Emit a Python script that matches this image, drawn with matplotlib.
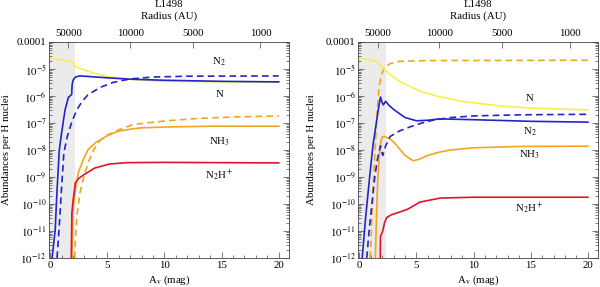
import numpy as np
import matplotlib
matplotlib.use('Agg')
import matplotlib.pyplot as plt
from matplotlib.ticker import MultipleLocator, LogLocator, NullFormatter

plt.rcParams['font.family'] = ['Liberation Serif', 'DejaVu Serif']
plt.rcParams['mathtext.fontset'] = 'stix'

# ---- data: (Av, log10 abundance) ----
# left panel
L_N_av = [0, 0.5, 1.0, 1.5, 1.9, 2.2, 2.6, 3.2, 4, 5.2, 6.4, 7, 8, 10, 13, 16, 20]
L_N_lg = [-4.63, -4.64, -4.66, -4.70, -4.74, -4.90, -4.98, -5.07, -5.18, -5.30, -5.35, -5.38, -5.42, -5.45, -5.47, -5.48, -5.49]
L_N2_av = [0.17, 0.44, 0.6, 0.8, 1.0, 1.3, 1.6, 1.88, 1.92, 2.0, 2.2, 2.6, 3.0, 4, 5, 7, 10, 15, 20]
L_N2_lg = [-12, -10.96, -9.5, -8.0, -7.37, -6.52, -6.05, -5.95, -5.6, -5.42, -5.3, -5.26, -5.27, -5.3, -5.33, -5.38, -5.42, -5.46, -5.48]
L_N2d_av = [0.6, 0.8, 1.0, 1.2, 1.5, 1.9, 2.35, 2.8, 3.3, 4.4, 5.5, 7, 9, 12, 20]
L_N2d_lg = [-12, -10.8, -9.4, -8.1, -7.5, -6.95, -6.5, -6.2, -5.96, -5.68, -5.5, -5.37, -5.3, -5.27, -5.26]
L_NH3_av = [1.9, 1.95, 2.0, 2.2, 2.45, 2.9, 3.3, 4, 4.4, 5, 6, 7.2, 8, 10.2, 14, 20]
L_NH3_lg = [-12, -11, -10.2, -9.5, -8.85, -8.35, -8.0, -7.72, -7.63, -7.47, -7.3, -7.22, -7.18, -7.15, -7.12, -7.12]
L_NH3d_av = [2.15, 2.25, 2.35, 2.6, 3.0, 3.4, 3.8, 4.4, 5, 6, 7.2, 8, 10.2, 13, 16, 20]
L_NH3d_lg = [-12, -11, -10.4, -9.6, -8.9, -8.4, -8.0, -7.63, -7.45, -7.25, -7.07, -7.02, -6.92, -6.83, -6.78, -6.74]
L_N2H_av = [1.85, 1.9, 2.0, 2.2, 2.5, 2.9, 3.9, 5.2, 6.7, 10, 15, 20]
L_N2H_lg = [-12, -10.33, -9.9, -9.22, -9.05, -8.93, -8.67, -8.52, -8.47, -8.46, -8.47, -8.48]

# right panel
R_N_av = [0, 0.7, 1.4, 1.8, 2.2, 2.7, 3.5, 4.4, 5.5, 7, 9, 12.3, 15, 20]
R_N_lg = [-4.63, -4.65, -4.72, -4.85, -5.02, -5.22, -5.45, -5.65, -5.85, -6.03, -6.2, -6.37, -6.45, -6.52]
R_NH3d_av = [0.95, 1.1, 1.25, 1.4, 1.55, 1.7, 1.9, 2.2, 2.7, 3.5, 6, 20]
R_NH3d_lg = [-12, -10.5, -9.0, -7.8, -6.6, -5.8, -5.25, -4.95, -4.8, -4.72, -4.69, -4.68]
R_N2_av = [0.25, 0.55, 0.9, 1.2, 1.45, 1.7, 1.85, 2.0, 2.1, 2.3, 2.6, 3, 4, 5, 6, 7, 10, 15, 20]
R_N2_lg = [-12, -10.5, -9.0, -7.8, -7.1, -6.4, -6.04, -6.25, -6.33, -6.2, -6.35, -6.5, -6.8, -6.92, -6.9, -6.85, -6.88, -6.94, -6.97]
R_N2d_av = [0.65, 0.85, 1.1, 1.35, 1.6, 1.85, 2.05, 2.3, 2.7, 3.5, 4.4, 5.5, 6.4, 8, 10, 14, 20]
R_N2d_lg = [-12, -11, -10, -9, -8.3, -7.85, -8.2, -7.85, -7.5, -7.3, -7.15, -7.0, -6.9, -6.8, -6.74, -6.7, -6.68]
R_NH3_av = [1.4, 1.5, 1.6, 1.75, 1.9, 2.0, 2.2, 2.6, 3.0, 3.5, 4.0, 4.7, 5.2, 6, 7, 8, 10, 14, 20]
R_NH3_lg = [-12, -10.5, -9.2, -8.2, -7.65, -7.52, -7.5, -7.58, -7.7, -7.95, -8.2, -8.4, -8.35, -8.2, -8.08, -8.0, -7.92, -7.87, -7.86]
R_N2H_av = [1.83, 1.85, 2.05, 2.2, 2.4, 2.8, 3.3, 4.2, 5.3, 7.1, 10, 20]
R_N2H_lg = [-12, -11.2, -11.0, -10.7, -10.5, -10.4, -10.33, -10.2, -9.93, -9.78, -9.75, -9.75]

radius_pos = [1.6, 7.0, 12.5, 18.4]
radius_lab = ['50000', '10000', '5000', '1000']
ytick_exp = [-12, -11, -10, -9, -8, -7, -6, -5, -4]
ytick_lab = [r'$10^{-%d}$' % -e for e in ytick_exp[:-1]] + ['0.0001']

c_yel = '#f6f04a'
c_blu = '#2424cc'
c_ora = '#f2a51f'
c_red = '#e0142a'
fs = 7.8


def setup(ax, shade, ylab_x):
    ax.set_yscale('log')
    ax.set_xlim(-0.1, 20.9)
    ax.set_ylim(1e-12, 1e-4)
    ax.axvspan(-0.1, shade, color='#ebebeb', zorder=0, lw=0)
    ax.set_yticks([10.0 ** e for e in ytick_exp])
    ax.set_yticklabels(ytick_lab)
    ax.yaxis.set_minor_locator(LogLocator(base=10, subs=np.arange(2, 10), numticks=20))
    ax.yaxis.set_minor_formatter(NullFormatter())
    ax.xaxis.set_major_locator(MultipleLocator(5))
    ax.xaxis.set_minor_locator(MultipleLocator(1))
    ax.tick_params(which='both', direction='in', right=True, top=False, labelsize=fs,
                   width=0.5, color='#444444')
    ax.tick_params(which='major', length=4)
    ax.tick_params(which='minor', length=2)
    ax.tick_params(axis='y', pad=2)
    ax.tick_params(axis='x', pad=2)
    for s in ax.spines.values():
        s.set_linewidth(0.6)
        s.set_color('#444444')
    ax.set_xlabel(r'A$_{\rm v}$ (mag)', fontsize=fs)
    ax.xaxis.set_label_coords(0.5, -0.072)
    ax.set_ylabel('Abundances per H nuclei', fontsize=fs)
    ax.yaxis.set_label_coords(ylab_x, 0.5)
    top = ax.twiny()
    top.set_xlim(ax.get_xlim())
    top.set_xticks(radius_pos)
    top.set_xticklabels(radius_lab)
    top.tick_params(direction='in', length=4, width=0.5, labelsize=fs, pad=3, color='#444444')
    for s in top.spines.values():
        s.set_visible(False)
    ax.text(0.5, 1.118, 'Radius (AU)', transform=ax.transAxes, fontsize=fs,
            ha='center', va='center')
    ax.text(0.5, 1.172, 'L1498', transform=ax.transAxes, fontsize=fs,
            ha='center', va='center')


def lp(ax, av, lg, c, ls='-'):
    ax.plot(av, 10.0 ** np.array(lg), color=c, ls=ls, lw=1.2,
            dashes=(4, 2.5) if ls == '--' else (None, None))


fig = plt.figure(figsize=(6, 2.87), dpi=100)
ax1 = fig.add_axes([0.0817, 0.101, 0.4, 0.753])
ax2 = fig.add_axes([0.597, 0.101, 0.4, 0.753])

setup(ax1, 2.2, -0.16)
lp(ax1, L_NH3d_av, L_NH3d_lg, c_ora, '--')
lp(ax1, L_NH3_av, L_NH3_lg, c_ora)
lp(ax1, L_N2H_av, L_N2H_lg, c_red)
lp(ax1, L_N_av, L_N_lg, c_yel)
lp(ax1, L_N2d_av, L_N2d_lg, c_blu, '--')
lp(ax1, L_N2_av, L_N2_lg, c_blu)
ax1.text(14.8, 10 ** -4.74, r'N$_2$', fontsize=fs, ha='center', va='center')
ax1.text(14.8, 10 ** -5.96, 'N', fontsize=fs, ha='center', va='center')
ax1.text(14.8, 10 ** -7.7, r'NH$_3$', fontsize=fs, ha='center', va='center')
ax1.text(14.8, 10 ** -8.93, r'N$_2$H$^+$', fontsize=fs, ha='center', va='center')

setup(ax2, 2.3, -0.175)
lp(ax2, R_NH3d_av, R_NH3d_lg, c_ora, '--')
lp(ax2, R_NH3_av, R_NH3_lg, c_ora)
lp(ax2, R_N2H_av, R_N2H_lg, c_red)
lp(ax2, R_N_av, R_N_lg, c_yel)
lp(ax2, R_N2d_av, R_N2d_lg, c_blu, '--')
lp(ax2, R_N2_av, R_N2_lg, c_blu)
ax2.text(14.9, 10 ** -6.1, 'N', fontsize=fs, ha='center', va='center')
ax2.text(14.9, 10 ** -7.33, r'N$_2$', fontsize=fs, ha='center', va='center')
ax2.text(14.9, 10 ** -8.19, r'NH$_3$', fontsize=fs, ha='center', va='center')
ax2.text(14.9, 10 ** -10.15, r'N$_2$H$^+$', fontsize=fs, ha='center', va='center')

fig.savefig('out.png', dpi=100)
